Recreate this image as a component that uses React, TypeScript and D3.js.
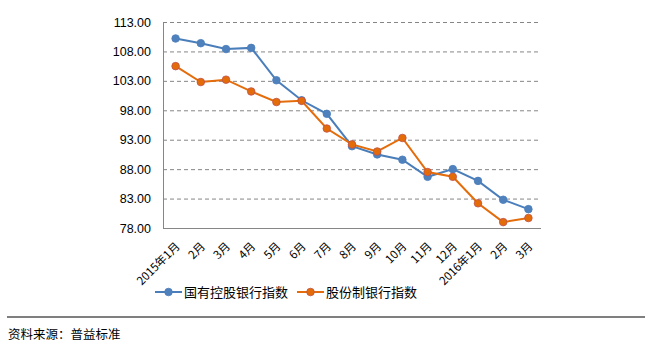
import React, { useEffect, useRef } from 'react';
import * as d3 from 'd3';

// categories and values
const months = ['2015年1月', '2月', '3月', '4月', '5月', '6月', '7月', '8月', '9月', '10月', '11月', '12月', '2016年1月', '2月', '3月'];
const stateOwned = [110.2, 109.4, 108.4, 108.6, 103.1, 99.7, 97.4, 91.9, 90.5, 89.6, 86.7, 88.0, 86.0, 82.8, 81.2];
const jointStock = [105.5, 102.8, 103.2, 101.2, 99.4, 99.6, 94.9, 92.2, 91.0, 93.3, 87.5, 86.7, 82.2, 79.0, 79.7];
const yTicks = [78, 83, 88, 93, 98, 103, 108, 113];
const seriesNames = ['国有控股银行指数', '股份制银行指数'];

const W = 652, H = 351;

export default function App() {
  const ref = useRef<SVGSVGElement | null>(null);

  useEffect(() => {
    const svg = d3.select(ref.current);
    svg.selectAll('*').remove();

    const left = 163, right = 541, top = 22, bottom = 228;
    const cjk = '"Noto Sans CJK SC", sans-serif';
    const latin = '"Liberation Sans", Arial, sans-serif';

    const x = d3.scaleBand<string>().domain(months.map((m, i) => i + '')).range([left, right]);
    const y = d3.scaleLinear().domain([78, 113]).range([bottom, top]);

    // gridlines
    svg.append('g').selectAll('line').data(yTicks.filter(t => t !== 78)).join('line')
      .attr('x1', left).attr('x2', right)
      .attr('y1', d => y(d) + 0.5).attr('y2', d => y(d) + 0.5)
      .attr('stroke', '#868686').attr('stroke-width', 1)
      .attr('stroke-dasharray', '4,3');

    // axes lines
    svg.append('line').attr('x1', left + 0.5).attr('x2', left + 0.5).attr('y1', top).attr('y2', bottom + 0.5)
      .attr('stroke', '#868686');
    svg.append('line').attr('x1', left).attr('x2', right).attr('y1', bottom + 0.5).attr('y2', bottom + 0.5)
      .attr('stroke', '#868686');

    // y labels
    svg.append('g').selectAll('text').data(yTicks).join('text')
      .attr('x', 151).attr('y', d => y(d) + 4.5)
      .attr('text-anchor', 'end')
      .attr('font-family', latin).attr('font-size', 12.5).attr('fill', '#000')
      .text(d => d.toFixed(2));

    // x labels
    svg.append('g').selectAll('text').data(months).join('text')
      .attr('transform', (d, i) => `translate(${x(i + '')! + x.bandwidth() / 2 + 5},${bottom + 19}) rotate(-45)`)
      .attr('text-anchor', 'end')
      .attr('font-family', cjk).attr('font-size', 11.5).attr('fill', '#000')
      .text(d => d);

    const styles = [
      { line: '#4A7EBB', fill: '#4F81BD', stroke: '#4A7EBB' },
      { line: '#E46C0A', fill: '#E36C09', stroke: '#C0504D' },
    ];

    const lineGen = d3.line<number>()
      .x((d, i) => x(i + '')! + x.bandwidth() / 2)
      .y(d => y(d));

    [stateOwned, jointStock].forEach((data, s) => {
      const g = svg.append('g');
      g.append('path').datum(data).attr('d', lineGen)
        .attr('fill', 'none').attr('stroke', styles[s].line).attr('stroke-width', 2);
      g.selectAll('circle').data(data).join('circle')
        .attr('cx', (d, i) => x(i + '')! + x.bandwidth() / 2)
        .attr('cy', d => y(d))
        .attr('r', 3.8)
        .attr('fill', styles[s].fill)
        .attr('stroke', styles[s].stroke).attr('stroke-width', 0.8);
    });

    // legend
    const legendX = [155, 297];
    seriesNames.forEach((name, s) => {
      const g = svg.append('g').attr('transform', `translate(${legendX[s]},292)`);
      g.append('line').attr('x1', 0).attr('x2', 27).attr('y1', 0).attr('y2', 0)
        .attr('stroke', styles[s].line).attr('stroke-width', 2);
      g.append('circle').attr('cx', 13.5).attr('cy', 0).attr('r', 3.8)
        .attr('fill', styles[s].fill).attr('stroke', styles[s].stroke).attr('stroke-width', 0.8);
      g.append('text').attr('x', 29).attr('y', 5)
        .attr('font-family', cjk).attr('font-size', 13).attr('fill', '#000')
        .text(name);
    });

    // footer
    svg.append('line').attr('x1', 7).attr('x2', 645).attr('y1', 317).attr('y2', 317)
      .attr('stroke', '#000').attr('stroke-width', 1.2);
    svg.append('text').attr('x', 8).attr('y', 339)
      .attr('font-family', cjk).attr('font-size', 12.5).attr('fill', '#000')
      .text('资料来源：普益标准');
  }, []);

  return (
    <svg ref={ref} width={W} height={H}
      style={{ position: 'absolute', left: 0, top: 0, background: '#fff' }} />
  );
}
